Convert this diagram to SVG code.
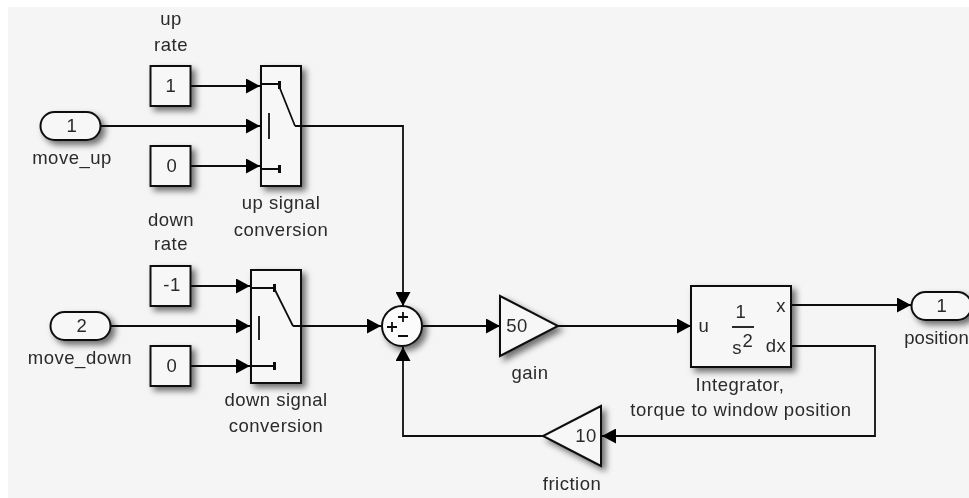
<svg xmlns="http://www.w3.org/2000/svg" width="969" height="498" viewBox="0 0 969 498">
<defs>
<filter id="sh" x="-25%" y="-25%" width="170%" height="170%"><feDropShadow dx="4" dy="4" stdDeviation="3" flood-color="#000" flood-opacity="0.55"/></filter>
<filter id="bl" x="-5%" y="-5%" width="110%" height="110%"><feGaussianBlur stdDeviation="0.55"/></filter>
<marker id="ah" markerUnits="userSpaceOnUse" markerWidth="15" markerHeight="15" refX="14" refY="7.500" orient="auto"><path d="M0,0 L14,7.500 L0,15 Z" fill="#000"/></marker>
</defs>
<style>
.b{fill:#f7f7f7;stroke:#111;stroke-width:2}
.c{fill:none;stroke:#111;stroke-width:1.800;marker-end:url(#ah)}
.l{fill:none;stroke:#111;stroke-width:1.800}
text{font-family:"Liberation Sans",Arial,sans-serif;font-size:18.500px;letter-spacing:.5px;fill:#2a2a2a;text-anchor:middle}
</style>
<rect width="969" height="498" fill="#fff"/>
<rect x="8" y="7" width="961" height="491" fill="#f5f5f5"/>
<g filter="url(#bl)">
<g id="connectors">
<path class="c" d="M191,86H260"/>
<path class="c" d="M100,126H260"/>
<path class="c" d="M191,166H260"/>
<path class="c" d="M301,126H403V306"/>
<path class="c" d="M191,286H250"/>
<path class="c" d="M110,326H250"/>
<path class="c" d="M191,366H250"/>
<path class="c" d="M301,326H381"/>
<path class="c" d="M423,326H500"/>
<path class="c" d="M558,326H691"/>
<path class="c" d="M791,305H911"/>
<path class="c" d="M791,346H875V436H602"/>
<path class="c" d="M543,436H403V347"/>
</g>
<g id="up-rate"><rect class="b" x="150.500" y="66" width="40" height="40" style="filter:url(#sh)"/><text x="171" y="92">1</text><text x="171" y="25">up</text><text x="171" y="51">rate</text></g>
<g id="move-up"><rect class="b" x="40.500" y="112" width="60" height="28" rx="14" style="filter:url(#sh)"/><text x="72" y="132">1</text><text x="72" y="164">move_up</text></g>
<g id="up-zero"><rect class="b" x="150.500" y="146" width="40" height="40" style="filter:url(#sh)"/><text x="172" y="172">0</text></g>
<g id="up-switch"><rect class="b" x="261" y="66" width="40" height="120" style="filter:url(#sh)"/>
<path class="l" d="M261,84H279M261,169H279M269,113V139M295,126L279,86M295,126H301"/><path d="M278,81h3v8h-3zM278,165h3v8h-3z" fill="#111"/>
<text x="281" y="209">up signal</text><text x="281" y="236">conversion</text></g>
<g id="down-rate"><text x="171" y="226">down</text><text x="171" y="250">rate</text><rect class="b" x="150.500" y="266" width="40" height="40" style="filter:url(#sh)"/><text x="172" y="291">-1</text></g>
<g id="move-down"><rect class="b" x="50.500" y="312" width="60" height="28" rx="14" style="filter:url(#sh)"/><text x="82" y="332">2</text><text x="80" y="364">move_down</text></g>
<g id="down-zero"><rect class="b" x="150.500" y="346" width="40" height="40" style="filter:url(#sh)"/><text x="172" y="372">0</text></g>
<g id="down-switch"><rect class="b" x="251" y="270" width="50" height="113" style="filter:url(#sh)"/>
<path class="l" d="M251,288H274M251,366H274M259,316V340M293,326L274,288M293,326H301"/><path d="M273,284h3v8h-3zM273,362h3v8h-3z" fill="#111"/>
<text x="276" y="406">down signal</text><text x="276" y="432">conversion</text></g>
<g id="sum"><circle class="b" cx="402" cy="326" r="20" style="fill:#fbfbfb;filter:url(#sh)"/><path class="l" d="M398,317h10M403,312v10M387,327h10M392,322v10M398,336h10"/></g>
<g id="gain"><path class="b" d="M500,296L558,326L500,356Z" style="filter:url(#sh)"/><text x="517" y="332">50</text><text x="530" y="379">gain</text></g>
<g id="integrator"><rect class="b" x="691" y="286" width="100" height="81" style="filter:url(#sh)"/>
<text x="704" y="332">u</text><text x="741" y="318">1</text><path class="l" d="M732,327H754"/><text x="737" y="354">s</text><text x="748" y="347">2</text><text x="781" y="312">x</text><text x="776" y="352">dx</text>
<text x="740" y="391">Integrator,</text><text x="741" y="416">torque to window position</text></g>
<g id="position"><rect class="b" x="911.500" y="292" width="60" height="28" rx="14" style="filter:url(#sh)"/><text x="942" y="312">1</text><text x="936.500" y="344" style="letter-spacing:.1px">position</text></g>
<g id="friction"><path class="b" d="M601,406L543,436L601,466Z" style="filter:url(#sh)"/><text x="586" y="442">10</text><text x="572" y="490">friction</text></g>
</g>
</svg>
